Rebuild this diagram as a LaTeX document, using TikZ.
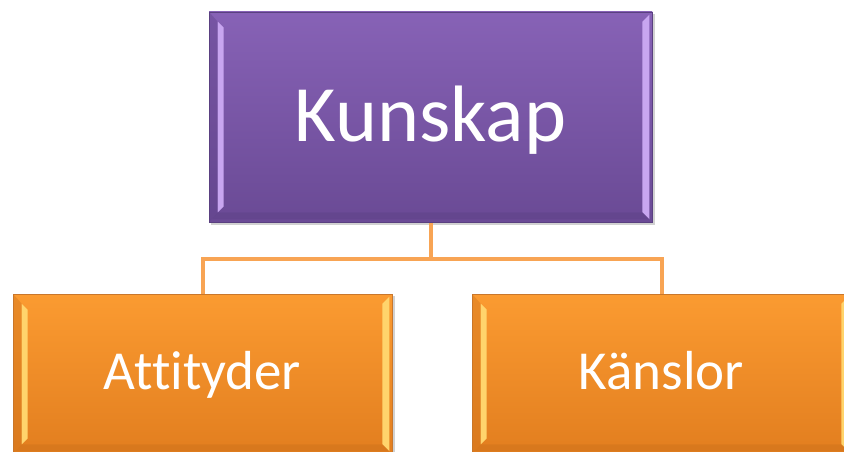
\documentclass[tikz,border=0pt]{standalone}
\usepackage{fontspec}
\setmainfont[Ligatures=NoCommon]{Carlito}
\definecolor{puTop}{HTML}{8762B6}
\definecolor{puBot}{HTML}{6A4A95}
\definecolor{puEdge}{HTML}{5A4080}
\definecolor{puLight}{HTML}{C8A6F0}
\definecolor{puDark}{HTML}{5F4288}
\definecolor{orTop}{HTML}{FB9B31}
\definecolor{orBot}{HTML}{E27E1F}
\definecolor{orEdge}{HTML}{C9772C}
\definecolor{orLight}{HTML}{FFD46C}
\definecolor{orDark}{HTML}{CF731C}
\definecolor{conn}{HTML}{F8A454}
\newcommand\mybevel[3]{%
  \fill[#2] ([shift={(9,10)}]#1.north west) -- ([shift={(15,16)}]#1.north west) -- ([shift={(15,-16)}]#1.south west) -- ([shift={(9,-10)}]#1.south west) -- cycle;
  \fill[#2] ([shift={(-10,10)}]#1.north east) -- ([shift={(-3,3)}]#1.north east) -- ([shift={(-3,-3)}]#1.south east) -- ([shift={(-10,-10)}]#1.south east) -- cycle;
  \fill[#3,opacity=0.5] ([shift={(9,-10)}]#1.south west) -- ([shift={(-10,-10)}]#1.south east) -- ([shift={(-3,-3)}]#1.south east) -- ([shift={(3,-3)}]#1.south west) -- cycle;
  \fill[#3,opacity=0.4] ([shift={(1,1)}]#1.north west) -- ([shift={(9,10)}]#1.north west) -- ([shift={(9,-10)}]#1.south west) -- ([shift={(1,-1)}]#1.south west) -- cycle;
}
\begin{document}
\begin{tikzpicture}[x=1pt,y=-1pt]
\tikzset{
  box/.style={rectangle, inner sep=0pt, line width=0.8pt, text=white},
  topbox/.style={box, minimum width=443pt, minimum height=210pt, top color=puTop, bottom color=puBot, draw=puEdge},
  subbox/.style={box, minimum width=379pt, minimum height=160pt, top color=orTop, bottom color=orBot, draw=orEdge},
  connline/.style={draw=conn, line width=4pt},
  shadowbox/.style={fill=black, opacity=0.18},
  bigtext/.style={text=white, font=\fontsize{80}{92}\selectfont, anchor=base},
  subtext/.style={text=white, font=\fontsize{55}{64}\selectfont, anchor=base}
}
\useasboundingbox (0,0) rectangle (844,452);
\fill[white] (0,0) rectangle (844,452);
% shadows
\fill[shadowbox] (211,14) rectangle (655,225);
\fill[shadowbox] (15,296) rectangle (395,456);
\fill[shadowbox] (474,296) rectangle (854,456);
\node[topbox] (top) at (430.5,117) {};
\node[subbox] (left) at (202.5,374) {};
\node[subbox] (right) at (661.5,374) {};
\coordinate (bus) at (430.5,259);
\draw[connline] (top.south) -- (bus) -| (left.north);
\draw[connline] (bus) -| (right.north);
\node[topbox] at (top) {};
\node[subbox] at (left) {};
\node[subbox] at (right) {};
\mybevel{top}{puLight}{puDark}
\mybevel{left}{orLight}{orDark}
\mybevel{right}{orLight}{orDark}
\node[bigtext] (ttop) at (430.5,141) {Kunskap};
\node[subtext] (tleft) at (202.5,389) {Attityder};
\node[subtext] (tright) at (661.5,389) {Känslor};
\end{tikzpicture}
\end{document}
